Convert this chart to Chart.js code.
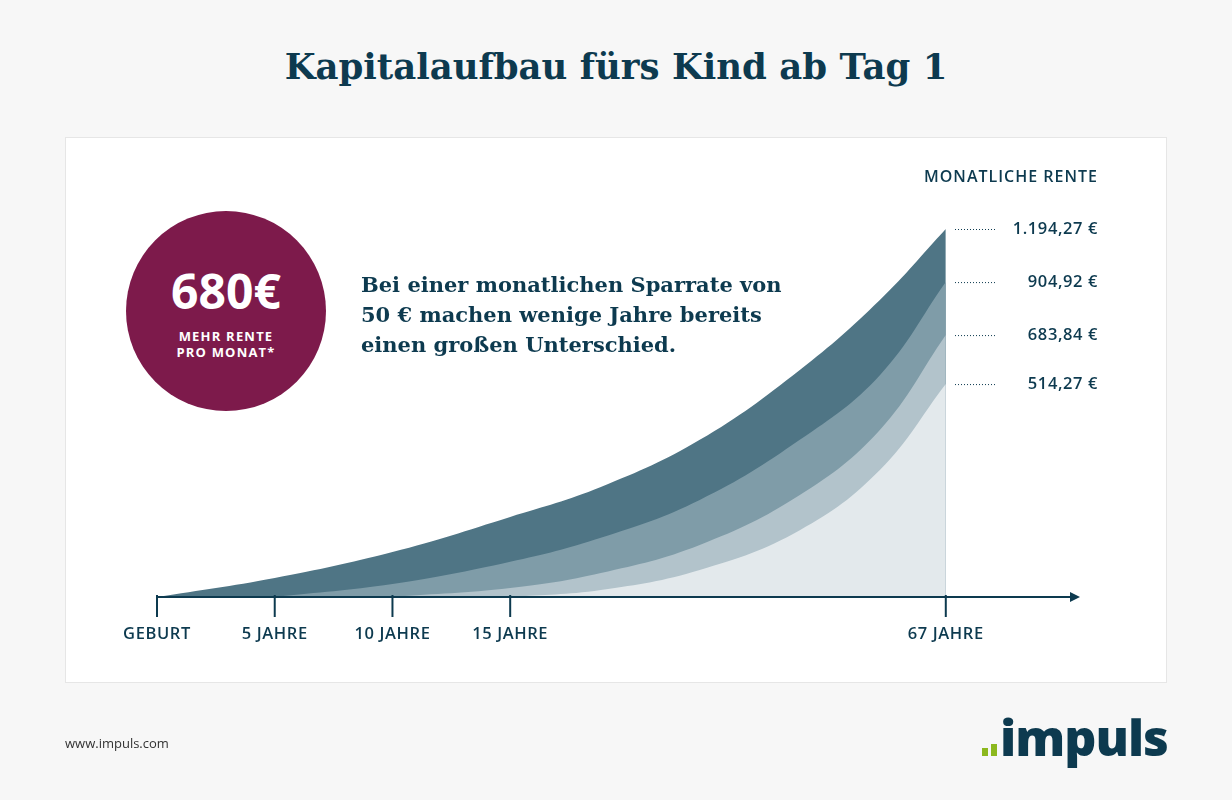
<!DOCTYPE html>
<html>
<head>
<meta charset="utf-8">
<script src="https://cdn.jsdelivr.net/npm/chart.js@4"></script>
<style>
  body { margin: 0; width: 1232px; height: 800px; background: #f7f7f7; font-family: "Open Sans", sans-serif; color: #0d3a4f; position: relative; overflow: hidden; }
  h1 { position: absolute; top: 46px; left: 0; width: 1232px; margin: 0; text-align: center; font-family: "DejaVu Serif", serif; font-weight: bold; font-size: 35.5px; color: #0d3a4f; }
  .card { position: absolute; left: 65px; top: 137px; width: 1102px; height: 546px; background: #fff; border: 1px solid #e6e6e6; box-sizing: border-box; }
  canvas { position: absolute; left: 0; top: 0; }
  .circle { position: absolute; left: 126px; top: 211px; width: 200px; height: 200px; border-radius: 50%; background: #7d1a4b; color: #fff; text-align: center; }
  .circle .big { font-size: 48px; font-weight: 700; margin-top: 52px; line-height: 56px; }
  .circle .small { font-size: 13px; font-weight: 700; letter-spacing: 1.2px; line-height: 16px; margin-top: 9px; }
  .note { position: absolute; left: 361px; top: 270px; font-family: "DejaVu Serif", serif; font-weight: bold; font-size: 21px; line-height: 30px; }
  .head { position: absolute; right: 134px; top: 165px; font-size: 16px; font-weight: 600; letter-spacing: 1px; }
  .url { position: absolute; left: 65px; top: 734px; font-size: 13px; color: #333; }
  .logo { position: absolute; left: 982px; top: 712px; font-size: 50px; font-weight: 800; color: #0d3a4f; letter-spacing: -1px; line-height: 50px; }
  .logo span { display: inline-block; background: #8cb81e; width: 6px; margin-right: 3px; }
</style>
</head>
<body>
<h1>Kapitalaufbau fürs Kind ab Tag 1</h1>
<div class="card"></div>
<canvas id="chart" width="1232" height="800"></canvas>
<div class="circle"><div class="big">680€</div><div class="small">MEHR RENTE<br>PRO MONAT*</div></div>
<div class="note">Bei einer monatlichen Sparrate von<br>50 € machen wenige Jahre bereits<br>einen großen Unterschied.</div>
<div class="head">MONATLICHE RENTE</div>
<div class="url">www.impuls.com</div>
<div class="logo"><span style="height:8px"></span><span style="height:12px"></span>impuls</div>
<script>
// axis positions (not to scale in the original) and their labels
const tickPos = [0, 1, 2, 3, 6.7];
const tickLabels = ['GEBURT', '5 JAHRE', '10 JAHRE', '15 JAHRE', '67 JAHRE'];
const endLabels = ['514,27 €', '683,84 €', '904,92 €', '1.194,27 €'];

// curves, lightest (start at 15 Jahre) first
const start15 = [[3, 0], [3.77, 23], [4.61, 88], [5.46, 217], [6.14, 412], [6.7, 691]];
const start10 = [[2, 0], [3, 29], [3.77, 78], [4.61, 169], [5.46, 331], [6.14, 542], [6.7, 850]];
const start5 = [[1, 0], [2, 42], [3, 114], [3.77, 192], [4.61, 315], [5.46, 510], [6.14, 720], [6.7, 1022]];
const startBirth = [[0, 0], [1, 62], [2, 146], [3, 260], [3.77, 357], [4.61, 510], [5.46, 737], [6.14, 964], [6.7, 1194.27]];
const colors = ['#e3e9ec', '#b2c3cb', '#7f9ca8', '#4f7585'];

const series = [start15, start10, start5, startBirth];

const overlay = {
    id: 'overlay',
    afterDatasetsDraw(chart) {
        const ctx = chart.ctx;
        const x = chart.scales.x, y = chart.scales.y;
        const y0 = y.getPixelForValue(0);
        ctx.save();
        ctx.strokeStyle = '#0d3a4f';
        ctx.fillStyle = '#0d3a4f';
        ctx.lineWidth = 2;
        // axis line with arrow
        ctx.beginPath();
        ctx.moveTo(x.getPixelForValue(0), y0);
        ctx.lineTo(x.right - 6, y0);
        ctx.stroke();
        ctx.beginPath();
        ctx.moveTo(x.right, y0);
        ctx.lineTo(x.right - 10, y0 - 5);
        ctx.lineTo(x.right - 10, y0 + 5);
        ctx.closePath();
        ctx.fill();
        ctx.font = '600 16.5px "Open Sans"';
        ctx.letterSpacing = '0.6px';
        ctx.textAlign = 'center';
        ctx.textBaseline = 'top';
        tickPos.forEach((p, i) => {
            const px = x.getPixelForValue(p);
            ctx.beginPath();
            ctx.moveTo(px, y0 - 2);
            ctx.lineTo(px, y0 + 20);
            ctx.stroke();
            ctx.fillText(tickLabels[i], px, y0 + 29);
        });
        // end labels with dotted leaders
        ctx.textAlign = 'right';
        ctx.textBaseline = 'middle';
        ctx.lineWidth = 1;
        ctx.setLineDash([1, 2]);
        series.forEach((s, i) => {
            const py = y.getPixelForValue(s[s.length - 1][1]);
            ctx.beginPath();
            ctx.moveTo(955, py + 0.5);
            ctx.lineTo(996, py + 0.5);
            ctx.stroke();
            ctx.fillText(endLabels[i], 1098, py);
        });
        ctx.restore();
    }
};

new Chart(document.getElementById('chart'), {
    type: 'line',
    data: {
        datasets: series.map((s, i) => ({
            data: s.map(p => ({ x: p[0], y: p[1] })),
            backgroundColor: colors[i],
            borderWidth: 0,
            pointRadius: 0,
            fill: 'origin',
            tension: 0.4
        }))
    },
    options: {
        responsive: false,
        animation: false,
        layout: { padding: { left: 157, right: 152, top: 229, bottom: 203 } },
        scales: {
            x: { type: 'linear', min: 0, max: 7.84, display: false },
            y: { min: 0, max: 1194.27, display: false }
        },
        plugins: { legend: { display: false }, tooltip: { enabled: false } }
    },
    plugins: [overlay]
});
</script>
</body>
</html>
